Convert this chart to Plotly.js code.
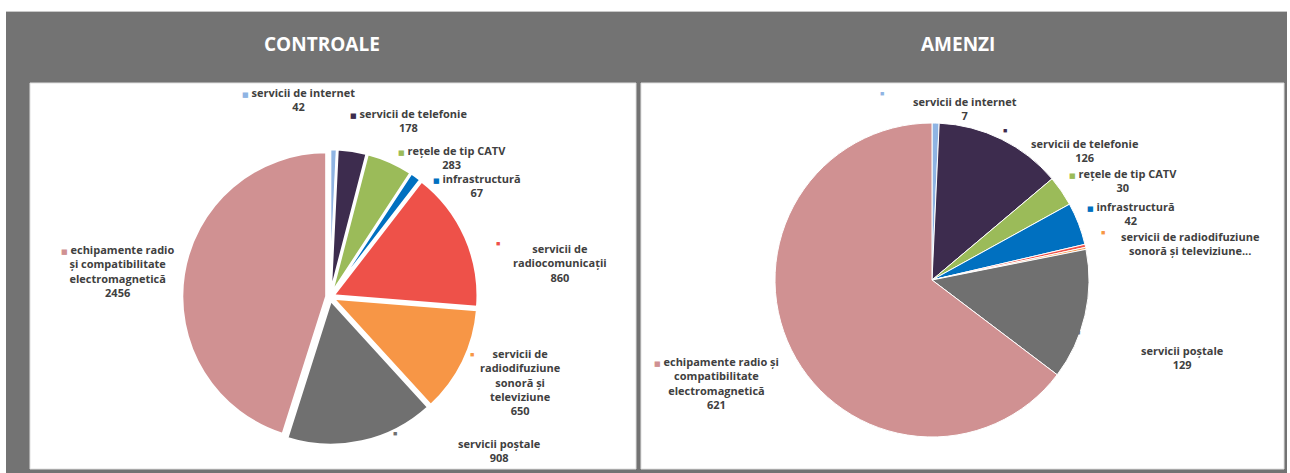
<!DOCTYPE html>
<html>
<head>
<meta charset="utf-8">
<script src="https://cdn.plot.ly/plotly-3.0.1.min.js"></script>
<style>html,body{margin:0;padding:0;background:#fff;}#chart{width:1290px;height:473px;}</style>
</head>
<body>
<div id="chart"></div>
<script>
// ---- DATA ----
const categories = [
  'servicii de internet',
  'servicii de telefonie',
  'rețele de tip CATV',
  'infrastructură',
  'servicii de radiocomunicații',
  'servicii de radiodifuziune sonoră și televiziune',
  'servicii poștale',
  'echipamente radio și compatibilitate electromagnetică'
];
const controaleValues = [42, 178, 283, 67, 860, 650, 908, 2456];
const amenziValues = [7, 126, 30, 42, 3, 2, 129, 621];
const sliceColors = ['#8fb4e3', '#3d2c4e', '#9bbb59', '#0070c0', '#ee5149', '#f79646', '#707070', '#d09192'];
const panelTitles = ['CONTROALE', 'AMENZI'];

// label texts (line-broken as in the picture)
const controaleLabelText = [
  'servicii de internet', 'servicii de telefonie', 'rețele de tip CATV', 'infrastructură',
  'servicii de<br>radiocomunicații', 'servicii de<br>radiodifuziune<br>sonoră și<br>televiziune',
  'servicii poștale', 'echipamente radio<br>și compatibilitate<br>electromagnetică'
];
const amenziLabelText = [
  'servicii de internet', 'servicii de telefonie', 'rețele de tip CATV', 'infrastructură',
  null, 'servicii de radiodifuziune<br>sonoră și televiziune...',
  'servicii poștale', 'echipamente radio și<br>compatibilitate<br>electromagnetică'
];
const amenziShowValue = [true, true, true, true, false, false, true, true];

// ---- LAYOUT HELPERS (pixel positions -> paper) ----
const W = 1290, H = 473;
const px = x => x / W;
const py = y => 1 - y / H;

// label placement: [textCenterX, textCenterY, inlineMarker, markerX, markerY]
const leftPos = [
  [298, 100, true], [409, 120.5, true], [452, 157.5, true], [477, 185.5, true],
  [560, 263, false, 498, 243], [520, 382, false, 472, 354], [499, 450, false, 395, 433],
  [117, 271, true]
];
const rightPos = [
  [965, 108, false, 882, 93], [1085, 150.5, false, 1005, 130], [1123, 180.5, true], [1131, 213.5, true],
  null, [1190, 243, false, 1103, 232], [1182, 357, false, 1078, 332], [716, 382.5, true]
];

const labelFont = {family: 'Open Sans, DejaVu Sans, sans-serif', size: 11, color: '#404040'};

function buildAnnotations(texts, values, pos, showVal) {
  const out = [];
  texts.forEach((t, i) => {
    if (!t || !pos[i]) return;
    const p = pos[i];
    let txt = '<b>' + t + (showVal[i] ? '<br>' + values[i] : '') + '</b>';
    if (p[2]) {
      txt = '<span style="color:' + sliceColors[i] + ';font-size:7px">■</span> ' + txt;
    } else {
      out.push({x: px(p[3]), y: py(p[4]), xref: 'paper', yref: 'paper', showarrow: false,
        text: '■', font: {size: 7, color: sliceColors[i]}, xanchor: 'center', yanchor: 'middle'});
    }
    out.push({x: px(p[0]), y: py(p[1]), xref: 'paper', yref: 'paper', showarrow: false,
      text: txt, align: 'center', font: labelFont, xanchor: 'center', yanchor: 'middle'});
  });
  return out;
}

const titleFont = {family: 'Liberation Sans Narrow, Open Sans, sans-serif', size: 19, color: '#ffffff'};
const annotations = [].concat(
  buildAnnotations(controaleLabelText, controaleValues, leftPos, controaleValues.map(() => true)),
  buildAnnotations(amenziLabelText, amenziValues, rightPos, amenziShowValue),
  [
    {x: px(322), y: py(44), xref: 'paper', yref: 'paper', showarrow: false, text: '<b>' + panelTitles[0] + '</b>',
     font: titleFont, xanchor: 'center', yanchor: 'middle'},
    {x: px(958), y: py(44), xref: 'paper', yref: 'paper', showarrow: false, text: '<b>' + panelTitles[1] + '</b>',
     font: titleFont, xanchor: 'center', yanchor: 'middle'}
  ]
);

const shapes = [
  {type: 'rect', xref: 'paper', yref: 'paper', x0: 0, x1: 1, y0: py(11), y1: 1, fillcolor: '#ffffff', line: {width: 0}, layer: 'below'},
  {type: 'line', xref: 'paper', yref: 'paper', x0: px(6), x1: px(1287), y0: py(11.5), y1: py(11.5), line: {color: '#c8c8c8', width: 1}, layer: 'below'},
  {type: 'rect', xref: 'paper', yref: 'paper', x0: 0, x1: px(6), y0: 0, y1: 1, fillcolor: '#ffffff', line: {width: 0}, layer: 'below'},
  {type: 'rect', xref: 'paper', yref: 'paper', x0: px(1287), x1: 1, y0: 0, y1: 1, fillcolor: '#ffffff', line: {width: 0}, layer: 'below'},
  {type: 'rect', xref: 'paper', yref: 'paper', x0: px(30), x1: px(636), y0: py(469), y1: py(83), fillcolor: '#ffffff', line: {color: '#e0e0e0', width: 1}, layer: 'below'},
  {type: 'rect', xref: 'paper', yref: 'paper', x0: px(641), x1: px(1284), y0: py(469), y1: py(83), fillcolor: '#ffffff', line: {color: '#e0e0e0', width: 1}, layer: 'below'}
];

const pull = 0.025;
const traces = [
  {
    type: 'pie', values: controaleValues, labels: categories, sort: false, direction: 'clockwise', rotation: 0,
    marker: {colors: sliceColors, line: {color: '#ffffff', width: 2.5}},
    pull: controaleValues.map(() => pull),
    textinfo: 'none', hoverinfo: 'label+value', showlegend: false,
    domain: {x: [px(182), px(478)], y: [py(446), py(148)]}
  },
  {
    type: 'pie', values: amenziValues, labels: categories, sort: false, direction: 'clockwise', rotation: 0,
    marker: {colors: sliceColors, line: {color: '#ffffff', width: 1}},
    textinfo: 'none', hoverinfo: 'label+value', showlegend: false,
    domain: {x: [px(775), px(1089)], y: [py(437), py(123)]}
  }
];

const layout = {
  width: W, height: H,
  margin: {l: 0, r: 0, t: 0, b: 0},
  paper_bgcolor: '#737373',
  plot_bgcolor: '#737373',
  showlegend: false,
  shapes: shapes,
  annotations: annotations
};

Plotly.newPlot('chart', traces, layout, {displayModeBar: false, staticPlot: true});
</script>
</body>
</html>
